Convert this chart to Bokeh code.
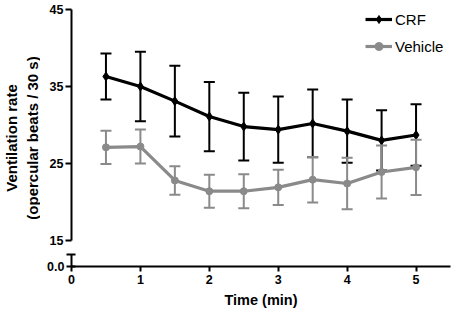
from bokeh.plotting import figure
from bokeh.layouts import column, row
from bokeh.models import Range1d, FixedTicker, ColumnDataSource, Legend, LegendItem
from bokeh.embed import file_html
from bokeh.resources import INLINE

# ---- data ----
time_min = [0.5, 1.0, 1.5, 2.0, 2.5, 3.0, 3.5, 4.0, 4.5, 5.0]
crf_mean = [36.3, 35.0, 33.1, 31.1, 29.8, 29.4, 30.2, 29.2, 28.0, 28.7]
crf_err = [3.0, 4.5, 4.6, 4.5, 4.4, 4.3, 4.4, 4.1, 3.9, 4.0]
veh_mean = [27.1, 27.2, 22.8, 21.4, 21.4, 21.9, 22.9, 22.4, 23.9, 24.5]
veh_err = [2.15, 2.2, 1.85, 2.15, 2.2, 2.3, 2.95, 3.35, 3.45, 3.6]
x_ticks = [0, 1, 2, 3, 4, 5]
y_ticks = [15, 25, 35, 45]

FONT = "Liberation Sans"
BLACK = "#000000"
GRAY = "#8a8a8a"


def src(mean, err):
    return ColumnDataSource(dict(
        x=time_min, y=mean,
        upper=[m + e for m, e in zip(mean, err)],
        lower=[m - e for m, e in zip(mean, err)],
    ))


crf_src = src(crf_mean, crf_err)
veh_src = src(veh_mean, veh_err)

# narrow figure that only carries the shared y-axis title
labfig = figure(width=40, height=312, output_backend="svg", toolbar_location=None,
                x_range=Range1d(0, 1), y_range=Range1d(0, 1), x_axis_location=None,
                min_border_left=39, min_border_right=0, min_border_top=9, min_border_bottom=46)
labfig.outline_line_color = None
labfig.xgrid.grid_line_color = None
labfig.ygrid.grid_line_color = None
labfig.background_fill_color = None
labfig.yaxis.ticker = FixedTicker(ticks=[])
labfig.yaxis.axis_line_color = None
labfig.yaxis.major_tick_line_color = None
labfig.yaxis.minor_tick_line_color = None
labfig.yaxis.major_tick_out = 0
labfig.yaxis.major_label_text_font_size = "0px"
labfig.yaxis.axis_label = "Ventilation rate\n(opercular beats / 30 s)"
labfig.yaxis.axis_label_text_font = FONT
labfig.yaxis.axis_label_text_font_style = "bold"
labfig.yaxis.axis_label_text_font_size = "15px"
labfig.yaxis.axis_label_text_line_height = 1.2
labfig.yaxis.axis_label_text_color = BLACK
labfig.yaxis.axis_label_standoff = 0

top = figure(width=414, height=247, output_backend="svg", toolbar_location=None,
             x_range=Range1d(0, 5.5), y_range=Range1d(15, 45),
             x_axis_location=None,
             min_border_left=31, min_border_right=4, min_border_top=9, min_border_bottom=7)
bot = figure(width=414, height=65, output_backend="svg", toolbar_location=None,
             x_range=top.x_range, y_range=Range1d(0, 1),
             min_border_left=31, min_border_right=4, min_border_top=7, min_border_bottom=46)

for p in (top, bot):
    p.outline_line_color = None
    p.xgrid.grid_line_color = None
    p.ygrid.grid_line_color = None
    p.background_fill_color = None
    p.border_fill_color = "white"
    for ax in p.axis:
        ax.axis_line_width = 2
        ax.axis_line_color = BLACK
        ax.major_tick_line_width = 2
        ax.major_tick_line_color = BLACK
        ax.minor_tick_line_color = None
        ax.major_label_text_font = FONT
        ax.major_label_text_font_style = "bold"
        ax.major_label_text_font_size = "12.5px"
        ax.major_label_text_color = BLACK

# y axis (upper segment)
top.yaxis.ticker = FixedTicker(ticks=y_ticks)
top.yaxis.major_tick_out = 6
top.yaxis.major_tick_in = 0
top.yaxis.major_label_standoff = 2

# y axis (lower segment with 0.0)
bot.yaxis.ticker = FixedTicker(ticks=[0, 1])
bot.yaxis.major_label_overrides = {0: "0.0", 1: ""}
bot.yaxis.major_tick_out = 5
bot.yaxis.major_tick_in = 4
bot.yaxis.major_label_standoff = 2

# x axis
bot.xaxis.ticker = FixedTicker(ticks=x_ticks)
bot.xaxis.major_tick_out = 5
bot.xaxis.major_tick_in = 0
bot.xaxis.major_label_standoff = 3
bot.xaxis.axis_label = "Time (min)"
bot.xaxis.axis_label_text_font = FONT
bot.xaxis.axis_label_text_font_style = "bold"
bot.xaxis.axis_label_text_font_size = "14.5px"
bot.xaxis.axis_label_text_color = BLACK
bot.xaxis.axis_label_standoff = 5


def series(p, s, color, marker, size):
    p.segment(x0="x", y0="lower", x1="x", y1="upper", source=s, line_color=color, line_width=2)
    p.scatter(x="x", y="upper", source=s, marker="dash", size=11, line_color=color, line_width=2)
    p.scatter(x="x", y="lower", source=s, marker="dash", size=11, line_color=color, line_width=2)
    ln = p.line(x="x", y="y", source=s, line_color=color, line_width=3.2)
    pts = p.scatter(x="x", y="y", source=s, marker=marker, size=size,
                    fill_color=color, line_color=color)
    return ln, pts


crf_line, crf_pts = series(top, crf_src, BLACK, "diamond", 9)
veh_line, veh_pts = series(top, veh_src, GRAY, "circle", 7)

legend = Legend(items=[LegendItem(label="CRF", renderers=[crf_line, crf_pts]),
                       LegendItem(label="Vehicle", renderers=[veh_line, veh_pts])],
                location=(294, 184), glyph_width=27, glyph_height=20, label_height=20,
                label_standoff=3, spacing=7, padding=0, margin=0,
                border_line_color=None, background_fill_alpha=0,
                label_text_font=FONT, label_text_font_size="15px",
                label_text_color=BLACK)
top.add_layout(legend)

layout = row(labfig, column(top, bot, spacing=0), spacing=0)
open("out.html", "w").write(file_html(layout, INLINE))
